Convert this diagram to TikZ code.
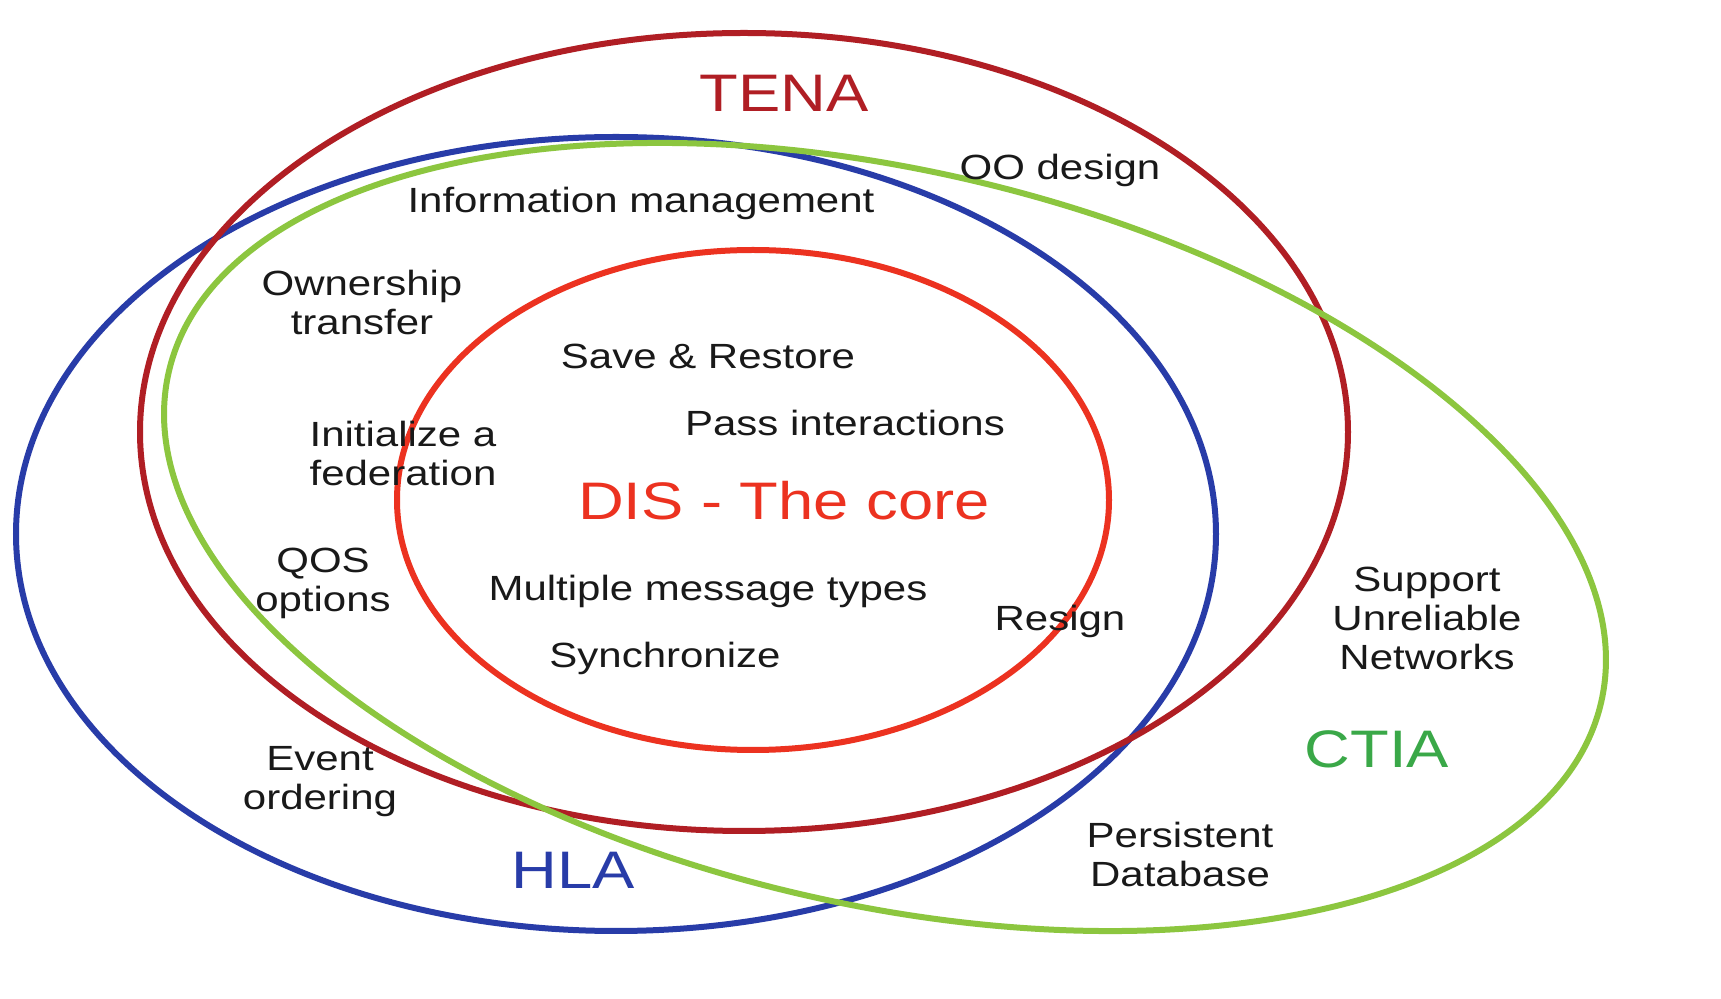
\documentclass[tikz,border=0pt]{standalone}
\usepackage{fontspec}
\setmainfont{Liberation Sans}[FakeStretch=1.2]
\usepackage{tikz}
\usetikzlibrary{positioning}

\definecolor{tenaRed}{RGB}{176,30,36}
\definecolor{disRed}{RGB}{236,50,32}
\definecolor{hlaBlue}{RGB}{40,60,168}
\definecolor{ctiaGreen}{RGB}{140,198,63}
\definecolor{ctiaText}{RGB}{58,168,72}

\begin{document}
\begin{tikzpicture}[
    x=0.5pt, y=-0.5pt,
    ring/.style={%
      line width=3pt,
    },
  ]

\tikzstyle{txt} = [inner sep=0pt, align=center, font=\fontsize{17.5}{19.5}\selectfont, text=black!90]

\tikzstyle{big} = [inner sep=0pt, align=center, font=\fontsize{26.4}{30}\selectfont]

    \useasboundingbox[fill=white] (0,0) rectangle (1721,999);

    % the four sets
    \draw [ring, hlaBlue] (616,534) ellipse (600 and 397);
    \draw [ring, tenaRed] (744,432) ellipse (604 and 399);
    \draw [ring, ctiaGreen, rotate around={-13:(885,537)}] (885,537) ellipse (735 and 367);
    \draw [ring, disRed] (753,500) ellipse (356 and 250);

    % set names
    \node [big, text=tenaRed] (tena) at (784,93) {TENA};
    \node [big, text=disRed] (dis) at (784,501) {DIS - The core};
    \node [big, text=ctiaText] (ctia) at (1377,749) {CTIA};
    \node [big, text=hlaBlue] (hla) at (573,870) {HLA};

    % features
    \node [txt] (oo) at (1060,170) {OO design};
    \node [txt] (info) at (641,203) {Information management};
    \node [txt] (owner) at (362,302) {Ownership\\transfer};
    \node [txt] (save) at (708,356) {Save \& Restore};
    \node [txt] (pass) at (845,423) {Pass interactions};
    \node [txt] (init) at (403,453) {Initialize a\\federation};
    \node [txt] (qos) at (323,583) {QOS\\options};
    \node [txt] (multi) at (708,591) {Multiple message types};
    \node [txt] (resign) at (1060,621) {Resign};
    \node [txt] (sync) at (665,658) {Synchronize};
    \node [txt] (unrel) at (1427,618) {Support\\Unreliable\\Networks};
    \node [txt] (event) at (320,782) {Event\\ordering};
    \node [txt] (persist) at (1180,854) {Persistent\\Database};
\end{tikzpicture}
\end{document}
